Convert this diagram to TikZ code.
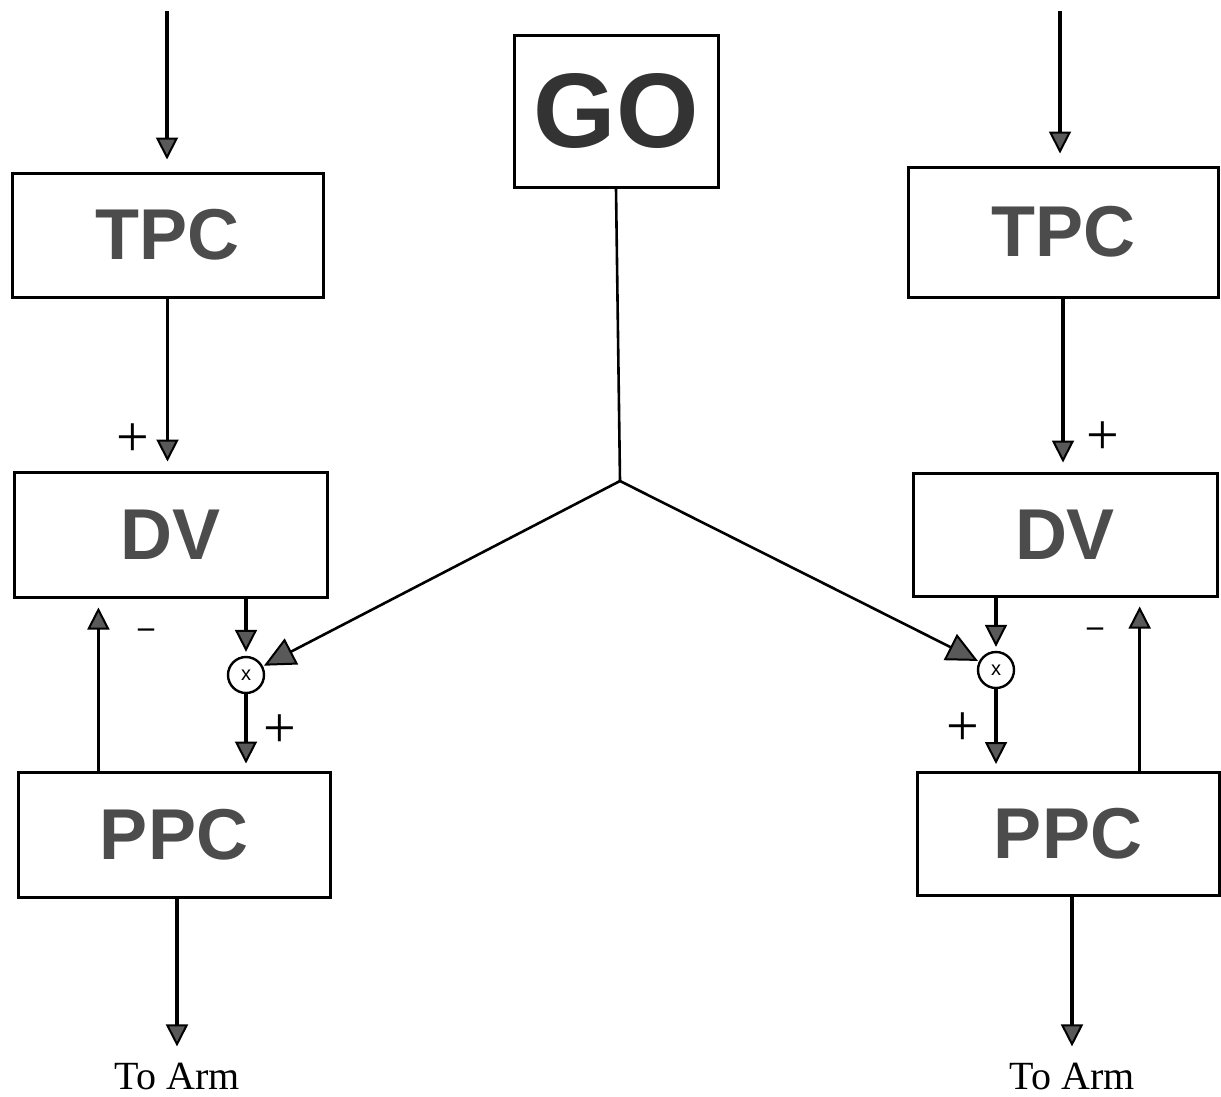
\documentclass[tikz,border=0pt]{standalone}
\usepackage{fontspec}
\setmainfont{Liberation Serif}
\setsansfont{Liberation Sans}
\usetikzlibrary{arrows.meta,calc}
\begin{document}
\begin{tikzpicture}[x=1pt,y=-1pt,
  blk/.style={draw, line width=3pt, inner sep=0pt, font=\sffamily\bfseries\fontsize{72}{72}\selectfont, text=black!70},
  mult/.style={draw, circle, line width=2.4pt, minimum size=36pt, inner sep=0pt, font=\sffamily\fontsize{20}{20}\selectfont},
  arr/.style={line width=3.2pt, -{Triangle[width=22pt,length=22pt,fill=black!65,line width=2pt]}},
  arrbig/.style={line width=2.6pt, -{Triangle[width=29pt,length=31pt,fill=black!65,line width=2pt]}},
  sign/.style={font=\fontsize{58}{58}\selectfont, inner sep=0pt},
  minus/.style={font=\bfseries\fontsize{32}{32}\selectfont, inner sep=0pt},
  lbl/.style={font=\rmfamily\fontsize{40}{40}\selectfont, inner sep=0pt}
]
\useasboundingbox (0,0) rectangle (1221,1096);
\fill[white] (0,0) rectangle (1221,1096);

% boxes
\node[blk, minimum width=311pt, minimum height=124pt] (tpcL) at (167.5,235) {TPC};
\node[blk, minimum width=313pt, minimum height=125pt] (dvL) at (170.5,534.5) {DV};
\node[blk, minimum width=312pt, minimum height=125pt] (ppcL) at (174,834.5) {PPC};
\node[blk, minimum width=310pt, minimum height=130pt] (tpcR) at (1063,232) {TPC};
\node[blk, minimum width=304pt, minimum height=123pt] (dvR) at (1065,534.5) {DV};
\node[blk, minimum width=302pt, minimum height=123pt] (ppcR) at (1068,834) {PPC};
\node[blk, minimum width=204pt, minimum height=152pt, font=\sffamily\bfseries\fontsize{106}{106}\selectfont, text=black!80] (go) at (616,111) {GO};

% multipliers
\node[mult] (cL) at (246,675) {x};
\node[mult] (cR) at (996,670) {x};

% free ends
\coordinate (inL) at (167,11);
\coordinate (inR) at (1060,11);
\coordinate (j) at (620,481);
\node[lbl] (armL) at (177,1076) {To Arm};
\node[lbl] (armR) at (1072,1076) {To Arm};

% connectors
\draw[arr, shorten >=12pt] (inL) -- (inL |- tpcL.north);
\draw[arr, shorten >=12pt] (inR) -- (inR |- tpcR.north);
\draw[arr, shorten >=9pt] (tpcL.south) -- (tpcL.south |- dvL.north);
\draw[arr, shorten >=9pt] (tpcR.south) -- (tpcR.south |- dvR.north);
\draw[arr, shorten >=4pt] (dvL.south -| cL) -- (cL.north);
\draw[arr, shorten >=4pt] (dvR.south -| cR) -- (cR.north);
\draw[arr, shorten >=7pt] (cL.south) -- (cL.south |- ppcL.north);
\draw[arr, shorten >=7pt] (cR.south) -- (cR.south |- ppcR.north);
\coordinate (upL) at ($(ppcL.north west)!0.26!(ppcL.north east)$);
\coordinate (upR) at ($(ppcR.north west)!0.735!(ppcR.north east)$);
\draw[arr, shorten >=9pt] (upL) -- (upL |- dvL.south);
\draw[arr, shorten >=9pt] (upR) -- (upR |- dvR.south);
\draw[arr, shorten >=16pt] (ppcL.south -| armL) -- (armL.north);
\draw[arr, shorten >=16pt] (ppcR.south -| armR) -- (armR.north);
\draw[line width=2.6pt] (go.south) -- (j);
\draw[arrbig, shorten >=1pt] (j) -- (cL);
\draw[arrbig, shorten >=1pt] (j) -- (cR);

% signs
\node[sign] (pL1) at (133,440) {+};
\node[sign] (pR1) at (1103,438) {+};
\node[sign] (pL2) at (280,731) {+};
\node[sign] (pR2) at (963,729) {+};
\node[minus] (mL) at (146,633) {–};
\node[minus] (mR) at (1095,632) {–};
\end{tikzpicture}
\end{document}
